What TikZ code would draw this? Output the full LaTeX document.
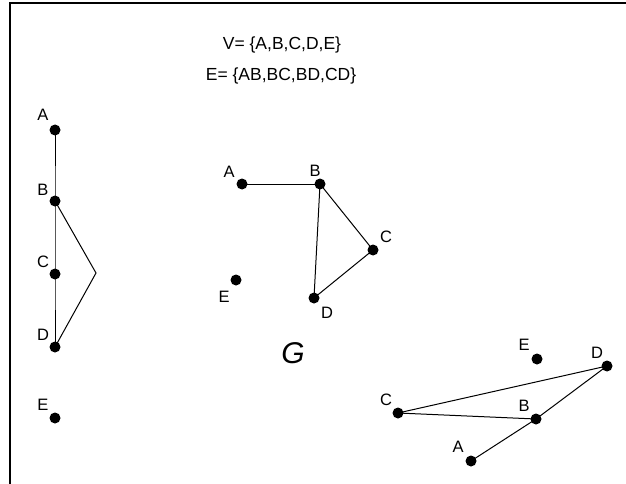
\documentclass[tikz,border=0pt]{standalone}
\usepackage{fontspec}
\setmainfont{Liberation Sans}
\begin{document}
\begin{tikzpicture}[x=1pt,y=-1pt,
  vtx/.style={circle,fill=black,inner sep=0pt,minimum size=11pt},
  lbl/.style={inner sep=0pt,font=\fontsize{16.5}{17}\selectfont},
  edge/.style={line width=1pt},
  title/.style={inner sep=0pt,font=\fontsize{17.5}{18}\selectfont}]
\useasboundingbox (0,0) rectangle (626,484);
% frame
\draw[line width=2pt] (10,484) -- (10,3) -- (626,3);
% title text
\node[title] (tv) at (282,45) {V= \{A,B,C,D,E\}};
\node[title] (te) at (281,76) {E= \{AB,BC,BD,CD\}};
\node[inner sep=0pt,font=\fontsize{30}{32}\selectfont\itshape] (g) at (293,353) {G};

% left graph
\node[vtx] (lA) at (55,130) {};
\node[vtx] (lB) at (55,201) {};
\node[vtx] (lC) at (55,274) {};
\node[vtx] (lD) at (55,347) {};
\node[vtx] (lE) at (55,418) {};
\coordinate (lP) at (96,273);
\node[lbl] (tlA) at (43,115) {A};
\node[lbl] (tlB) at (43,190) {B};
\node[lbl] (tlC) at (43,262) {C};
\node[lbl] (tlD) at (43,335) {D};
\node[lbl] (tlE) at (43,405) {E};
\draw[edge] (lA.center) -- (lB.center) -- (lC.center) -- (lD.center);
\draw[edge] (lB.center) -- (lP) -- (lD.center);

% middle graph
\node[vtx] (mA) at (242,184) {};
\node[vtx] (mB) at (320,184) {};
\node[vtx] (mC) at (373,250) {};
\node[vtx] (mD) at (314,298) {};
\node[vtx] (mE) at (236,280) {};
\node[lbl] (tmA) at (229,172) {A};
\node[lbl] (tmB) at (315,171) {B};
\node[lbl] (tmC) at (386,237) {C};
\node[lbl] (tmD) at (327,313) {D};
\node[lbl] (tmE) at (224,297) {E};
\draw[edge] (mA.center) -- (mB.center);
\draw[edge] (mB.center) -- (mC.center) -- (mD.center) -- (mB.center);

% right graph
\node[vtx] (rA) at (471,461) {};
\node[vtx] (rB) at (536,419) {};
\node[vtx] (rC) at (398,413) {};
\node[vtx] (rD) at (607,366) {};
\node[vtx] (rE) at (537,359) {};
\node[lbl] (trA) at (458,447) {A};
\node[lbl] (trB) at (524,406) {B};
\node[lbl] (trC) at (386,400) {C};
\node[lbl] (trD) at (597,353) {D};
\node[lbl] (trE) at (524,345) {E};
\draw[edge] (rC.center) -- (rD.center);
\draw[edge] (rC.center) -- (rB.center);
\draw[edge] (rA.center) -- (rB.center) -- (rD.center);
\end{tikzpicture}
\end{document}
